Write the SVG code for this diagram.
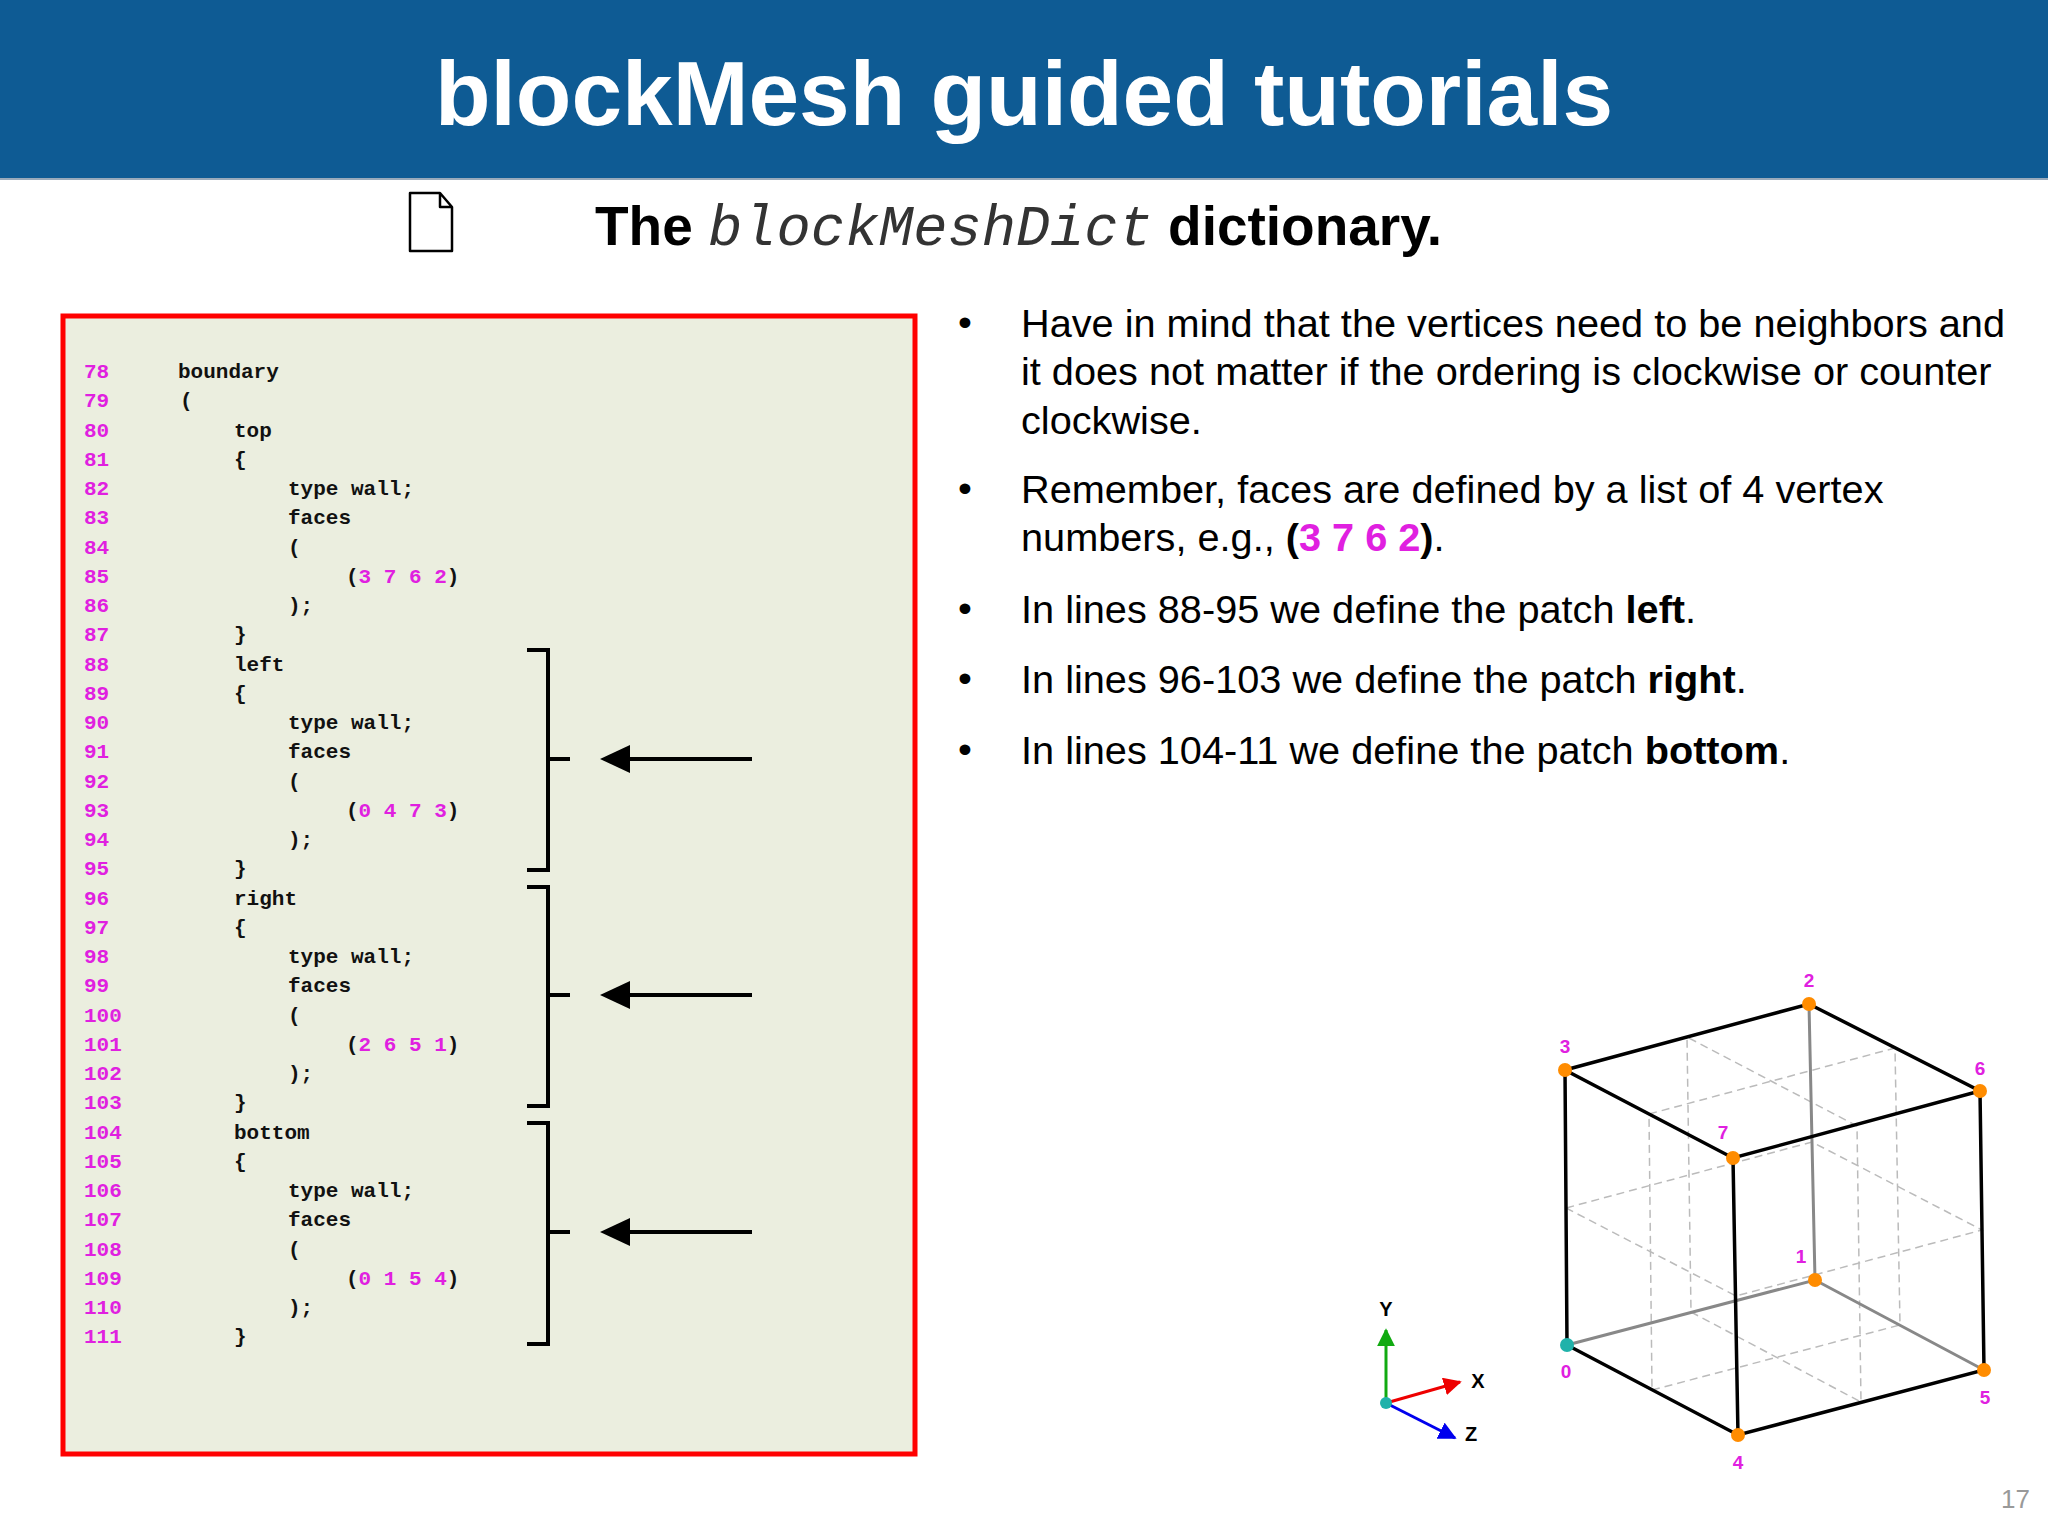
<svg xmlns="http://www.w3.org/2000/svg" width="2048" height="1536" viewBox="0 0 2048 1536">
<style>
.code{font-family:"Liberation Mono",monospace;font-weight:bold;font-size:21px;fill:#111}
.ln{font-family:"Liberation Mono",monospace;font-weight:bold;font-size:21px;fill:#e020e0}
.m{fill:#e020e0}
.b{font-family:"Liberation Sans",Arial,sans-serif;font-size:39.7px;fill:#000}
.vl{font-family:"Liberation Sans",Arial,sans-serif;font-weight:bold;font-size:19px;fill:#e020e0;text-anchor:middle}
.edge{stroke:#000;stroke-width:3.5;fill:none}
.hid{stroke:#888;stroke-width:3;fill:none}
.dash{stroke:#bbb;stroke-width:1.5;stroke-dasharray:8 5;fill:none}
.brk{stroke:#000;stroke-width:4;fill:none}
.arr{stroke:#000;stroke-width:4}
</style>
<defs>
<marker id="axr" viewBox="0 0 10 10" refX="9" refY="5" markerWidth="6" markerHeight="6" orient="auto"><path d="M0,0 L10,5 L0,10 Z" fill="#e00"/></marker>
<marker id="axg" viewBox="0 0 10 10" refX="9" refY="5" markerWidth="6" markerHeight="6" orient="auto"><path d="M0,0 L10,5 L0,10 Z" fill="#1a1"/></marker>
<marker id="axb" viewBox="0 0 10 10" refX="9" refY="5" markerWidth="6" markerHeight="6" orient="auto"><path d="M0,0 L10,5 L0,10 Z" fill="#00e"/></marker>
</defs>
<rect width="2048" height="1536" fill="#fff"/>
<g id="header">
<rect x="0" y="0" width="2048" height="179" fill="#0e5b94"/>
<line x1="0" y1="179" x2="2048" y2="179" stroke="#9ab" stroke-width="2"/>
<text x="1024" y="125" text-anchor="middle" font-family="Liberation Sans,Arial,sans-serif" font-weight="bold" font-size="91" fill="#fff">blockMesh guided tutorials</text>
</g>
<g id="subtitle">
<path d="M410,193 L440,193 L452,207 L452,251 L410,251 Z M440,193 L440,207 L452,207" fill="none" stroke="#000" stroke-width="2.5" stroke-linejoin="round"/>
<text x="595" y="245" font-family="Liberation Sans,Arial,sans-serif" font-size="55" font-weight="bold"><tspan>The </tspan><tspan font-family="Liberation Mono,monospace" font-style="italic" font-weight="normal" fill="#333" font-size="57">blockMeshDict</tspan><tspan> dictionary.</tspan></text>
</g>
<g id="code">
<rect x="63" y="316" width="852" height="1138" fill="#ebeedf" stroke="#f00" stroke-width="5"/>
<g class="ln">
<text x="84" y="378">78</text><text x="84" y="407">79</text><text x="84" y="437">80</text><text x="84" y="466">81</text><text x="84" y="495">82</text><text x="84" y="524">83</text><text x="84" y="554">84</text><text x="84" y="583">85</text><text x="84" y="612">86</text><text x="84" y="641">87</text><text x="84" y="671">88</text><text x="84" y="700">89</text><text x="84" y="729">90</text><text x="84" y="758">91</text><text x="84" y="788">92</text><text x="84" y="817">93</text><text x="84" y="846">94</text><text x="84" y="875">95</text><text x="84" y="905">96</text><text x="84" y="934">97</text><text x="84" y="963">98</text><text x="84" y="992">99</text><text x="84" y="1022">100</text><text x="84" y="1051">101</text><text x="84" y="1080">102</text><text x="84" y="1109">103</text><text x="84" y="1139">104</text><text x="84" y="1168">105</text><text x="84" y="1197">106</text><text x="84" y="1226">107</text><text x="84" y="1256">108</text><text x="84" y="1285">109</text><text x="84" y="1314">110</text><text x="84" y="1343">111</text>
</g>
<g class="code">
<text x="178" y="378">boundary</text><text x="180" y="407">(</text>
<text x="234" y="437">top</text><text x="234" y="466">{</text>
<text x="288" y="495">type wall;</text><text x="288" y="524">faces</text><text x="288" y="554">(</text>
<text x="346" y="583">(<tspan class="m">3 7 6 2</tspan>)</text>
<text x="288" y="612">);</text><text x="234" y="641">}</text>
<text x="234" y="671">left</text><text x="234" y="700">{</text>
<text x="288" y="729">type wall;</text><text x="288" y="758">faces</text><text x="288" y="788">(</text>
<text x="346" y="817">(<tspan class="m">0 4 7 3</tspan>)</text>
<text x="288" y="846">);</text><text x="234" y="875">}</text>
<text x="234" y="905">right</text><text x="234" y="934">{</text>
<text x="288" y="963">type wall;</text><text x="288" y="992">faces</text><text x="288" y="1022">(</text>
<text x="346" y="1051">(<tspan class="m">2 6 5 1</tspan>)</text>
<text x="288" y="1080">);</text><text x="234" y="1109">}</text>
<text x="234" y="1139">bottom</text><text x="234" y="1168">{</text>
<text x="288" y="1197">type wall;</text><text x="288" y="1226">faces</text><text x="288" y="1256">(</text>
<text x="346" y="1285">(<tspan class="m">0 1 5 4</tspan>)</text>
<text x="288" y="1314">);</text><text x="234" y="1343">}</text>
</g>
</g>
<g id="brackets">
<path class="brk" d="M527,650 L548,650 L548,759 L570,759 M548,759 L548,870 L527,870"/>
<path class="brk" d="M527,887 L548,887 L548,995 L570,995 M548,995 L548,1106 L527,1106"/>
<path class="brk" d="M527,1123 L548,1123 L548,1232 L570,1232 M548,1232 L548,1344 L527,1344"/>
</g>
<g id="connectors">
<line class="arr" x1="752" y1="759" x2="625" y2="759"/><path d="M600,759 L630,745 L630,773 Z"/>
<line class="arr" x1="752" y1="995" x2="625" y2="995"/><path d="M600,995 L630,981 L630,1009 Z"/>
<line class="arr" x1="752" y1="1232" x2="625" y2="1232"/><path d="M600,1232 L630,1218 L630,1246 Z"/>
</g>
<g id="bullets" class="b">
<text x="958" y="336">•</text><text x="1021" y="337">Have in mind that the vertices need to be neighbors and</text>
<text x="1021" y="385">it does not matter if the ordering is clockwise or counter</text>
<text x="1021" y="434">clockwise.</text>
<text x="958" y="502">•</text><text x="1021" y="503">Remember, faces are defined by a list of 4 vertex</text>
<text x="1021" y="551">numbers, e.g., <tspan font-weight="bold">(<tspan fill="#e020e0">3 7 6 2</tspan>)</tspan>.</text>
<text x="958" y="622">•</text><text x="1021" y="623">In lines 88-95 we define the patch <tspan font-weight="bold">left</tspan>.</text>
<text x="958" y="692">•</text><text x="1021" y="693">In lines 96-103 we define the patch <tspan font-weight="bold">right</tspan>.</text>
<text x="958" y="763">•</text><text x="1021" y="764">In lines 104-11 we define the patch <tspan font-weight="bold">bottom</tspan>.</text>
</g>
<g id="cube">
<path class="dash" d="M1566,1208 L1736,1296 L1982,1230 L1812,1142 Z"/>
<path class="dash" d="M1691,1312 L1861,1402 L1857,1126 L1687,1037 Z"/>
<path class="dash" d="M1652,1390 L1900,1325 L1895,1048 L1649,1114 Z"/>
<path class="hid" d="M1567,1345 L1815,1280 L1984,1370 M1815,1280 L1809,1004"/>
<path class="edge" d="M1565,1070 L1809,1004 L1980,1091 L1733,1158 Z M1565,1070 L1567,1345 L1738,1435 L1984,1370 L1980,1091 M1733,1158 L1738,1435"/>
<g fill="#ff8c00">
<circle cx="1565" cy="1070" r="7"/><circle cx="1809" cy="1004" r="7"/><circle cx="1980" cy="1091" r="7"/><circle cx="1733" cy="1158" r="7"/><circle cx="1815" cy="1280" r="7"/><circle cx="1984" cy="1370" r="7"/><circle cx="1738" cy="1435" r="7"/>
</g>
<circle cx="1567" cy="1345" r="7" fill="#20b2aa"/>
<text class="vl" x="1809" y="987">2</text><text class="vl" x="1565" y="1053">3</text><text class="vl" x="1980" y="1075">6</text><text class="vl" x="1723" y="1139">7</text><text class="vl" x="1801" y="1263">1</text><text class="vl" x="1566" y="1378">0</text><text class="vl" x="1985" y="1404">5</text><text class="vl" x="1738" y="1469">4</text>
</g>
<g id="axes">
<line x1="1386" y1="1403" x2="1386" y2="1330" stroke="#1a1" stroke-width="3" marker-end="url(#axg)"/>
<line x1="1386" y1="1403" x2="1460" y2="1382" stroke="#e00" stroke-width="3" marker-end="url(#axr)"/>
<line x1="1386" y1="1403" x2="1455" y2="1438" stroke="#00e" stroke-width="3" marker-end="url(#axb)"/>
<circle cx="1386" cy="1403" r="6" fill="#20b2aa"/>
<g font-family="Liberation Sans,Arial,sans-serif" font-weight="bold" font-size="20" fill="#000" text-anchor="middle">
<text x="1386" y="1316">Y</text><text x="1478" y="1388">X</text><text x="1471" y="1441">Z</text>
</g>
</g>
<text x="2030" y="1508" text-anchor="end" font-family="Liberation Sans,Arial,sans-serif" font-size="26" fill="#999">17</text>
</svg>
